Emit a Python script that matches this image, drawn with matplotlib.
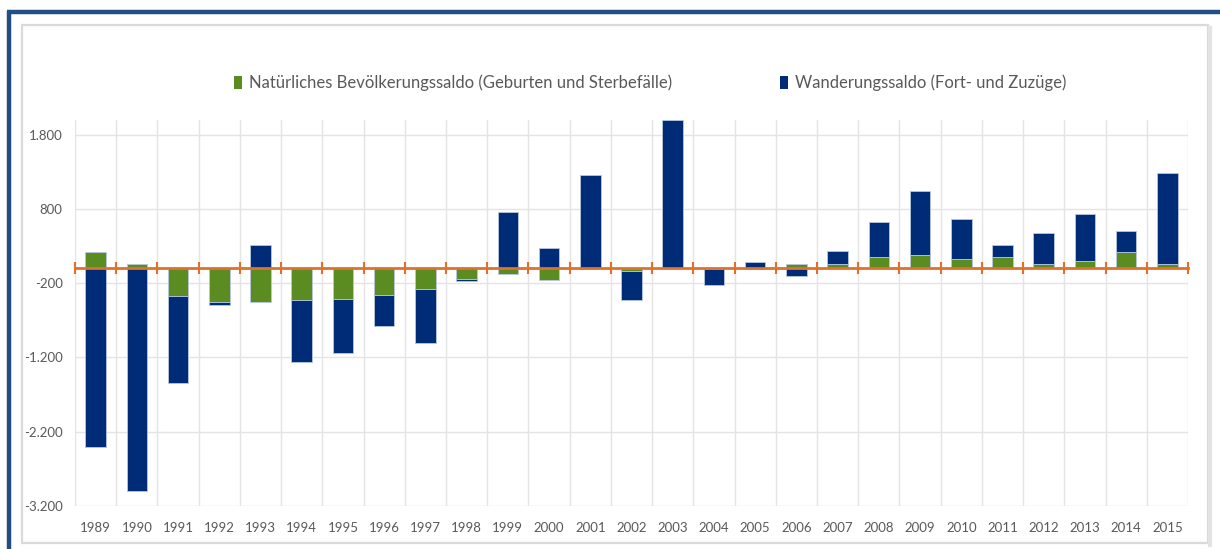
import matplotlib
matplotlib.use("Agg")
import matplotlib.pyplot as plt
import numpy as np
from matplotlib.patches import Rectangle, Patch
from matplotlib.lines import Line2D
from matplotlib.ticker import FixedLocator, FuncFormatter

years = [str(y) for y in range(1989, 2016)]
natuerlich = [220, 60, -375, -450, -450, -430, -410, -365, -275, -140, -70, -160, -10,
              -30, 0, -10, -10, 55, 60, 150, 175, 130, 150, 60, 100, 220, 60]
wanderung = [-2410, -3000, -1165, -50, 320, -830, -730, -415, -725, -35, 760, 270, 1260,
             -400, 2000, -215, 85, -100, 180, 470, 865, 540, 170, 415, 635, 280, 1225]
series_labels = ["Natürliches Bevölkerungssaldo (Geburten und Sterbefälle)",
                 "Wanderungssaldo (Fort- und Zuzüge)"]
y_ticks = [-3200, -2200, -1200, -200, 800, 1800]

GREEN = "#5B8C22"
BLUE = "#002C77"
ORANGE = "#E0702A"
GRID = "#E4E4E4"
TXT = "#595959"
FONT = "Lato"

fig = plt.figure(figsize=(12.2, 5.49), dpi=100)
W, H = 1220, 549

def fx(px):
    return px / W

def fy(py):
    return 1 - py / H

# frame decorations
fig.add_artist(Rectangle((fx(22), fy(543)), fx(1208) - fx(22), fy(25) - fy(543),
                         transform=fig.transFigure, fill=False, edgecolor="#DADADA", lw=1.6))
fig.add_artist(Line2D([fx(1210), fx(1210)], [fy(28), fy(545)], transform=fig.transFigure,
                      color="#E3E3E3", lw=3))
fig.add_artist(Line2D([fx(7), fx(1220)], [fy(12), fy(12)], transform=fig.transFigure,
                      color="#224E84", lw=3.2, solid_capstyle="butt"))
fig.add_artist(Line2D([fx(9), fx(9)], [fy(10.5), fy(549)], transform=fig.transFigure,
                      color="#224E84", lw=3.2, solid_capstyle="butt"))

ax = fig.add_axes([fx(75), fy(505.7), fx(1188) - fx(75), fy(120) - fy(505.7)])
x = np.arange(len(years))
nat = np.array(natuerlich, dtype=float)
wan = np.array(wanderung, dtype=float)

pos_base = np.zeros(len(x))
neg_base = np.zeros(len(x))
for vals, col in [(nat, GREEN), (wan, BLUE)]:
    bottoms = np.where(vals >= 0, pos_base, neg_base)
    ax.bar(x, vals, bottom=bottoms, width=0.5, color=col, edgecolor="#B8C7E0",
           linewidth=0.6, zorder=2)
    pos_base = pos_base + np.where(vals >= 0, vals, 0)
    neg_base = neg_base + np.where(vals < 0, vals, 0)

ax.set_xlim(-0.5, len(x) - 0.5)
ax.set_ylim(-3200, 2000)

ax.yaxis.set_major_locator(FixedLocator(y_ticks))
ax.yaxis.set_major_formatter(FuncFormatter(lambda v, p: f"{int(v):,}".replace(",", ".")))
ax.set_xticks(x)
ax.set_xticklabels(years)
ax.xaxis.set_minor_locator(FixedLocator(np.arange(len(x) + 1) - 0.5))

ax.grid(axis="y", which="major", color=GRID, lw=1, zorder=0)
ax.grid(axis="x", which="minor", color=GRID, lw=1, zorder=0)
ax.set_axisbelow(True)

for s in ["left", "right", "bottom"]:
    ax.spines[s].set_visible(False)
ax.spines["top"].set_position(("data", 0))
ax.spines["top"].set_color(ORANGE)
ax.spines["top"].set_linewidth(2)
ax.spines["top"].set_zorder(3)

ax.tick_params(axis="x", which="major", length=0, pad=12, labelsize=9.5, labelcolor=TXT,
               bottom=True, top=False)
ax.tick_params(axis="x", which="minor", top=True, bottom=False, direction="inout",
               length=9, width=1.5, color=ORANGE)
ax.tick_params(axis="y", length=0, pad=9, labelsize=9.5, labelcolor=TXT)
for lbl in ax.get_xticklabels() + ax.get_yticklabels():
    lbl.set_fontfamily(FONT)

handles = [Patch(facecolor=GREEN, edgecolor="none"), Patch(facecolor=BLUE, edgecolor="none")]
fig.legend(handles, series_labels, loc="center", bbox_to_anchor=(fx(650), fy(83)),
           ncol=2, frameon=False, handlelength=0.5, handleheight=0.85, handletextpad=0.4,
           columnspacing=6.45, prop={"family": FONT, "size": 12}, labelcolor=TXT)

fig.savefig("out.png", dpi=100)
